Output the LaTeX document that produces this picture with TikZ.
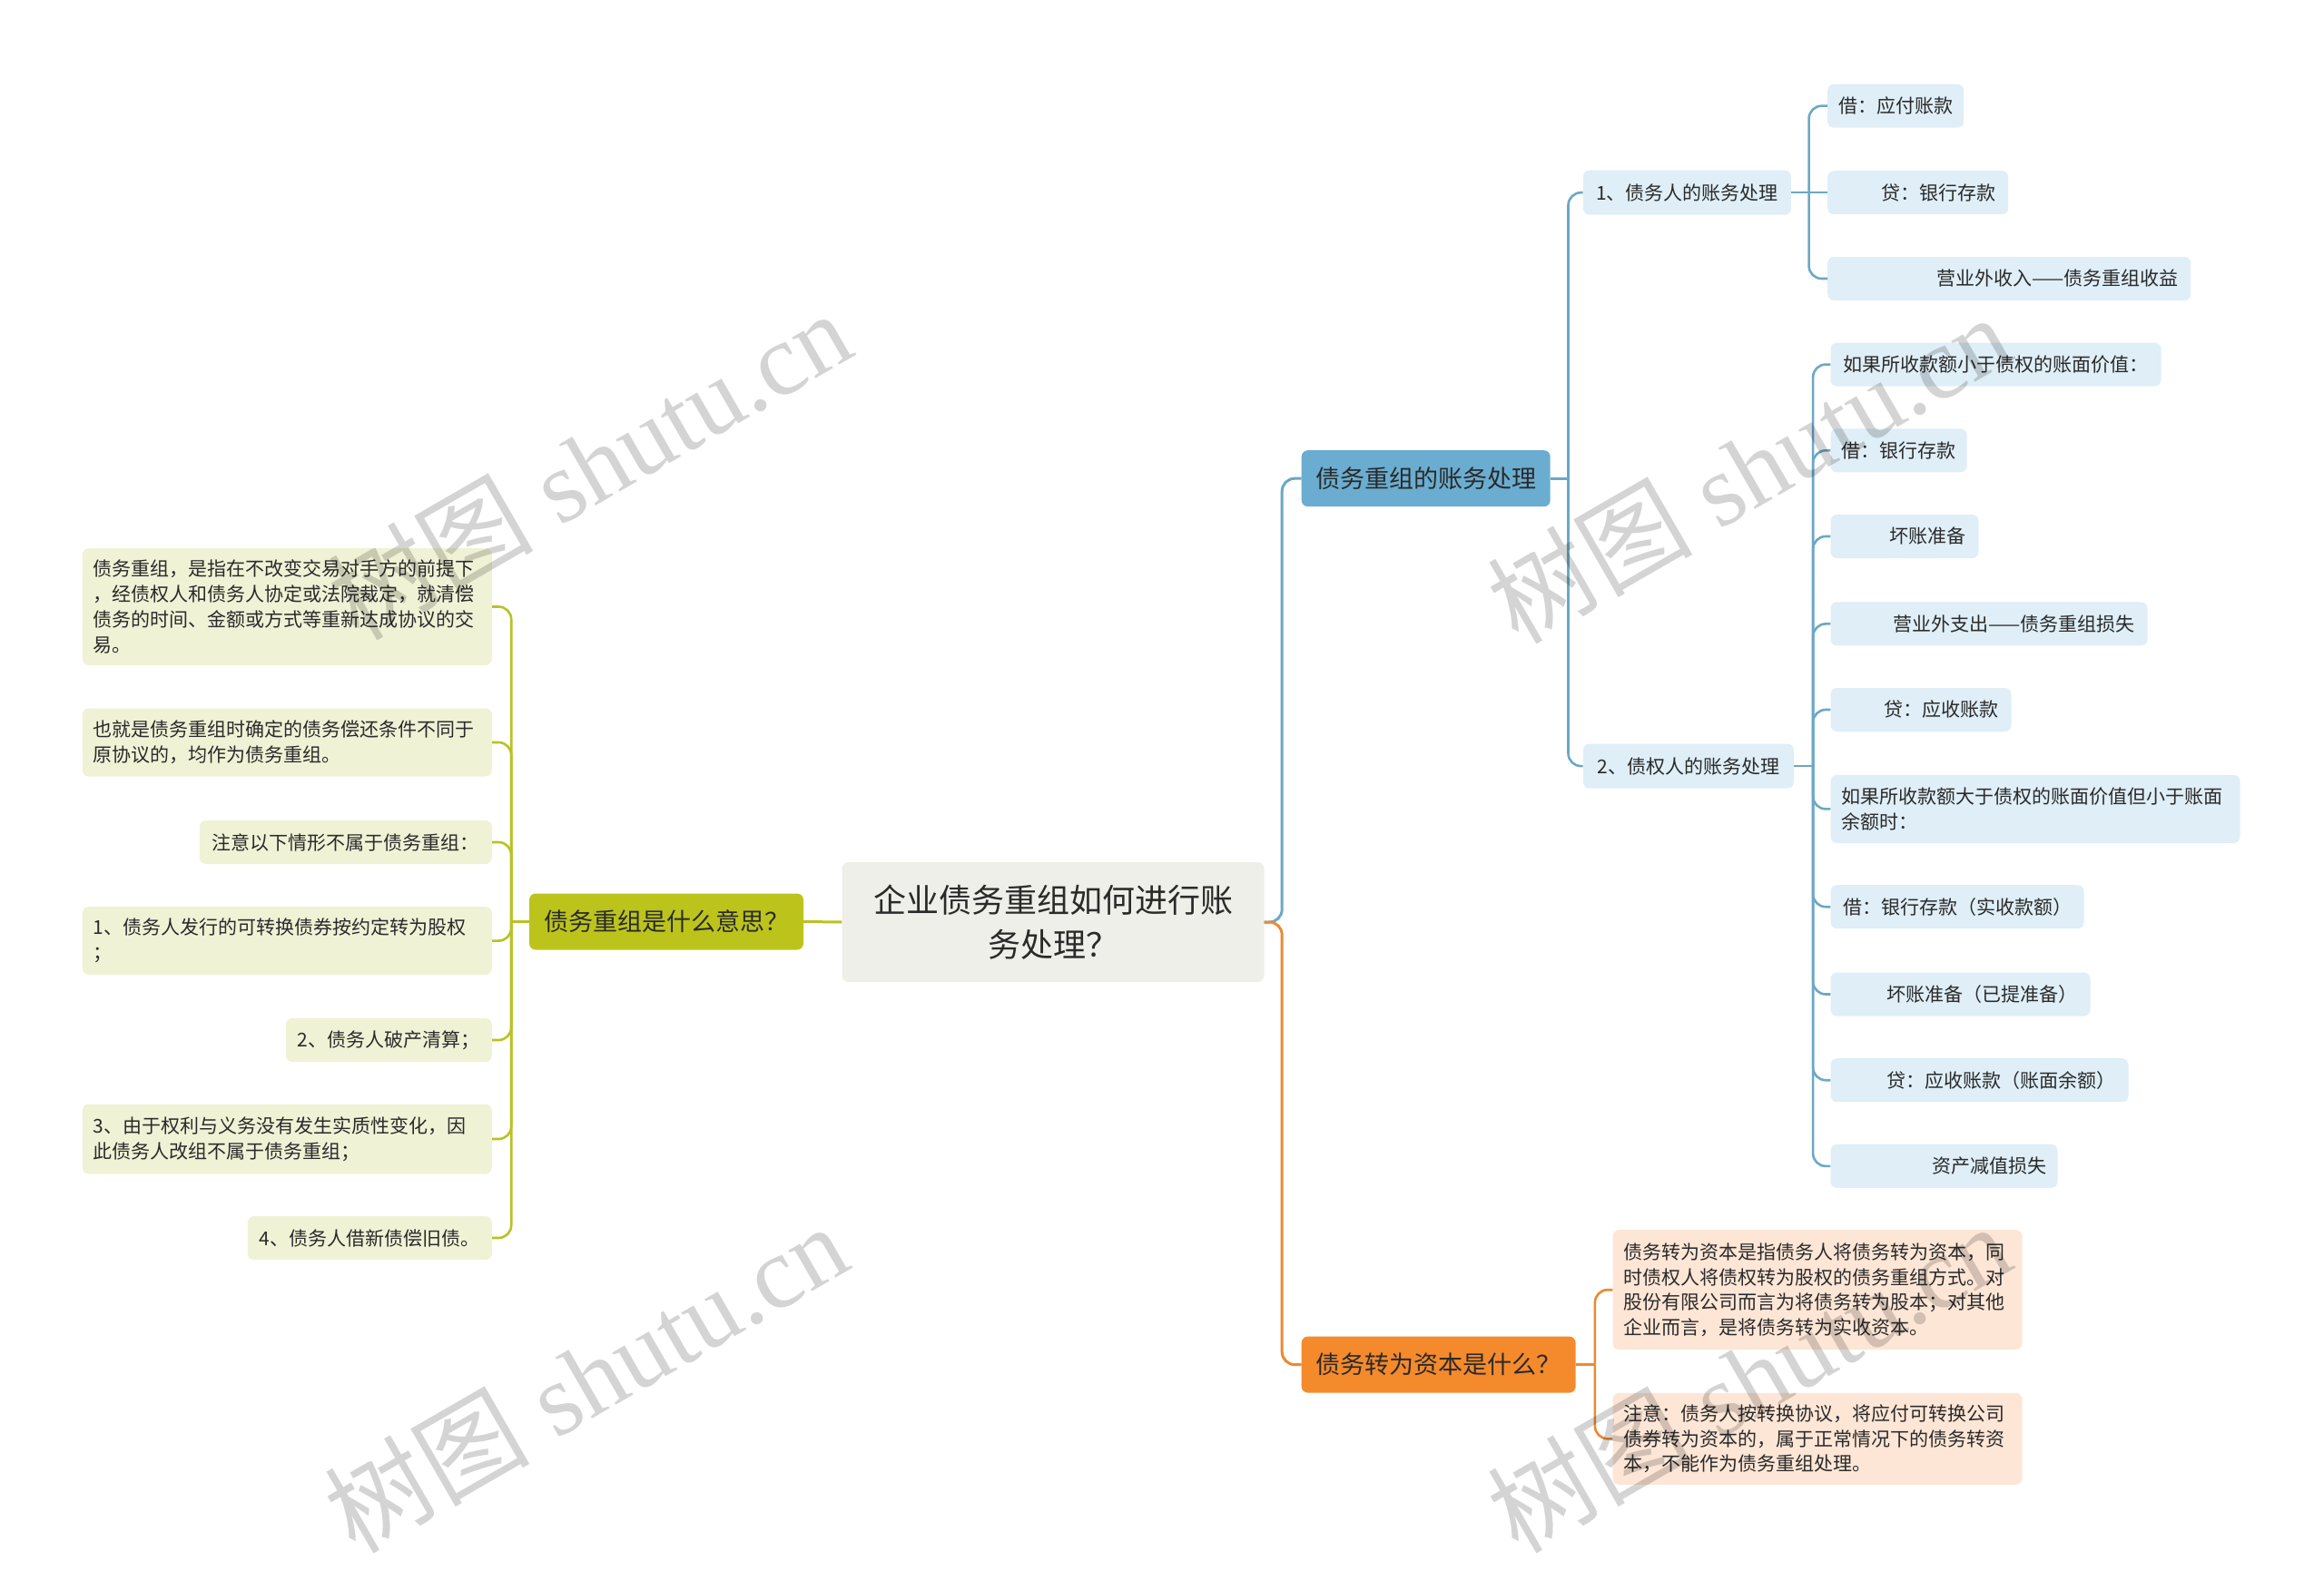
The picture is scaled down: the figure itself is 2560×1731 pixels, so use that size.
\documentclass[tikz,border=0pt]{standalone}
\usepackage{fontspec}
\setmainfont{Noto Sans CJK SC}
\newfontfamily\cjkf{Noto Sans CJK SC}
\newfontfamily\wmlatin{Liberation Serif}
\definecolor{ink}{HTML}{2A2A2A}
\definecolor{rootfill}{HTML}{EFEFE9}
\definecolor{olive}{HTML}{BCC41C}
\definecolor{oliveline}{HTML}{B8C224}
\definecolor{olivelight}{HTML}{F0F2D6}
\definecolor{blue}{HTML}{6AADD0}
\definecolor{blueline}{HTML}{6BA8C6}
\definecolor{bluelight}{HTML}{DFEEF7}
\definecolor{orange}{HTML}{F58A2C}
\definecolor{orangeline}{HTML}{EC8A30}
\definecolor{orangelight}{HTML}{FDE6D6}
\begin{document}
\begin{tikzpicture}[x=1pt,y=-1pt,
  nd/.style={rounded corners=7pt, inner sep=0pt, text=ink},
  rootn/.style={nd, fill=rootfill, font=\fontsize{36}{49}\selectfont, align=center,
     minimum width=465pt, minimum height=132pt},
  mainn/.style={nd, font=\fontsize{27}{34}\selectfont, minimum height=62pt},
  leafn/.style={nd, font=\fontsize{21}{27.8}\selectfont, minimum height=48pt},
  lleaf/.style={leafn, fill=olivelight, anchor=east},
  bleaf/.style={leafn, fill=bluelight, anchor=west},
  oleaf/.style={leafn, fill=orangelight, anchor=west},
  lb/.style={draw=blueline, line width=2.6pt},
  lo/.style={draw=orangeline, line width=2.6pt},
  ll/.style={draw=oliveline, line width=2.6pt},
  wm/.style={text=black, text opacity=0.17, font=\fontsize{113}{113}\wmlatin, rotate=30, inner sep=0pt}
]
\useasboundingbox (0,0) rectangle (2560,1731);

% ---------- root ----------
\node[rootn] (root) at (1160,1016) {企业债务重组如何进行账\\务处理？};

% ---------- main topics ----------
\node[mainn, fill=olive, minimum width=302pt] (lm) at (734,1015.5) {债务重组是什么意思？};
\node[mainn, fill=blue, minimum width=274pt, anchor=west] (bm) at (1433.5,527.2) {债务重组的账务处理};
\node[mainn, fill=orange, minimum width=302pt, anchor=west] (om) at (1433.5,1503.6) {债务转为资本是什么？};

% ---------- left leaves ----------
\node[lleaf, minimum width=451pt, minimum height=129pt, text width=427pt, align=left] (L1) at (542,668.5)
 {债务重组，是指在不改变交易对手方的前提下\\，经债权人和债务人协定或法院裁定，就清偿\\债务的时间、金额或方式等重新达成协议的交\\易。};
\node[lleaf, minimum width=451pt, minimum height=75pt, text width=427pt, align=left] (L2) at (542,818)
 {也就是债务重组时确定的债务偿还条件不同于\\原协议的，均作为债务重组。};
\node[lleaf, minimum width=322pt] (L3) at (542,928) {注意以下情形不属于债务重组：};
\node[lleaf, minimum width=451pt, minimum height=75pt, text width=427pt, align=left] (L4) at (542,1036.6)
 {1、债务人发行的可转换债券按约定转为股权\\；};
\node[lleaf, minimum width=227pt] (L5) at (542,1146) {2、债务人破产清算；};
\node[lleaf, minimum width=451pt, minimum height=77pt, text width=427pt, align=left] (L6) at (542,1255)
 {3、由于权利与义务没有发生实质性变化，因\\此债务人改组不属于债务重组；};
\node[lleaf, minimum width=269pt] (L7) at (542,1364) {4、债务人借新债偿旧债。};

% ---------- blue sub topics ----------
\node[bleaf, minimum width=229pt, minimum height=49pt] (d0) at (1743.7,212.2) {1、债务人的账务处理};
\node[bleaf, minimum width=232pt, minimum height=49pt] (c0) at (1743.7,844.1) {2、债权人的账务处理};

\node[bleaf, minimum width=150pt] (d1) at (2013,116.7) {借：应付账款};
\node[bleaf, minimum width=199pt, text width=171pt, align=right] (d2) at (2013,212.2) {贷：银行存款};
\node[bleaf, minimum width=400pt, text width=372pt, align=right] (d3) at (2013,307) {营业外收入——债务重组收益};

\node[bleaf, minimum width=364pt] (c1) at (2016.3,401.6) {如果所收款额小于债权的账面价值：};
\node[bleaf, minimum width=150pt] (c2) at (2016.3,496.3) {借：银行存款};
\node[bleaf, minimum width=163pt, text width=135pt, align=right] (c3) at (2016.3,591) {坏账准备};
\node[bleaf, minimum width=349pt, text width=321pt, align=right] (c4) at (2016.3,687.4) {营业外支出——债务重组损失};
\node[bleaf, minimum width=199pt, text width=171pt, align=right] (c5) at (2016.3,782) {贷：应收账款};
\node[bleaf, minimum width=451pt, minimum height=75pt, text width=427pt, align=left] (c6) at (2016.3,891.4)
 {如果所收款额大于债权的账面价值但小于账面\\余额时：};
\node[bleaf, minimum width=279pt] (c7) at (2016.3,999.2) {借：银行存款（实收款额）};
\node[bleaf, minimum width=286pt, text width=258pt, align=right] (c8) at (2016.3,1095.5) {坏账准备（已提准备）};
\node[bleaf, minimum width=328pt, text width=300pt, align=right] (c9) at (2016.3,1190.2) {贷：应收账款（账面余额）};
\node[bleaf, minimum width=250pt, text width=226pt, align=right] (c10) at (2016.3,1284.9) {资产减值损失};

% ---------- orange leaves ----------
\node[oleaf, minimum width=451pt, minimum height=132pt, text width=427pt, align=left] (o1) at (1776.3,1421.2)
 {债务转为资本是指债务人将债务转为资本，同\\时债权人将债权转为股权的债务重组方式。对\\股份有限公司而言为将债务转为股本；对其他\\企业而言，是将债务转为实收资本。};
\node[oleaf, minimum width=451pt, minimum height=101pt, text width=427pt, align=left] (o2) at (1776.3,1585.3)
 {注意：债务人按转换协议，将应付可转换公司\\债券转为资本的，属于正常情况下的债务转资\\本，不能作为债务重组处理。};

% ---------- connectors ----------
\path (root.east) ++(19.5,0) coordinate (jr);
\path (lm.west) ++(-19.6,0) coordinate (jl);
\path (bm.east) ++(19.6,0) coordinate (jb);
\path (d0.east) ++(19.5,0) coordinate (jd);
\path (c0.east) ++(21,0) coordinate (jc);
\path (om.east) ++(21,0) coordinate (jo);

\draw[lb, line width=3pt, rounded corners=14pt] (root.east) -- (jr) |- (bm.west);
\draw[lo, line width=3pt, rounded corners=14pt] (root.east) -- (jr) |- (om.west);
\draw[ll, line width=3pt] (root.west) -- (lm.east);

\draw[ll] (lm.west) -- (jl);
\foreach \n in {L1,L2,L3,L4,L5,L6,L7}
  \draw[ll, rounded corners=14pt] (jl) |- (\n.east);

\draw[lb] (bm.east) -- (jb);
\draw[lb, rounded corners=14pt] (jb) |- (d0.west);
\draw[lb, rounded corners=14pt] (jb) |- (c0.west);

\draw[lb] (d0.east) -- (jd);
\draw[lb, rounded corners=14pt] (jd) |- (d1.west);
\draw[lb] (jd) -- (d2.west);
\draw[lb, rounded corners=14pt] (jd) |- (d3.west);

\draw[lb] (c0.east) -- (jc);
\foreach \n in {c1,c2,c3,c4,c5,c6,c7,c8,c9,c10}
  \draw[lb, rounded corners=14pt] (jc) |- (\n.west);

\draw[lo] (om.east) -- (jo);
\draw[lo, rounded corners=14pt] (jo) |- (o1.west);
\draw[lo, rounded corners=14pt] (jo) |- (o2.west);

% ---------- watermarks ----------
\node[wm] (w1) at (649,512) {{\cjkf 树图} shutu.cn};
\node[wm] (w2) at (1926,516) {{\cjkf 树图} shutu.cn};
\node[wm] (w3) at (645,1518) {{\cjkf 树图} shutu.cn};
\node[wm] (w4) at (1926,1518) {{\cjkf 树图} shutu.cn};
\end{tikzpicture}
\end{document}
